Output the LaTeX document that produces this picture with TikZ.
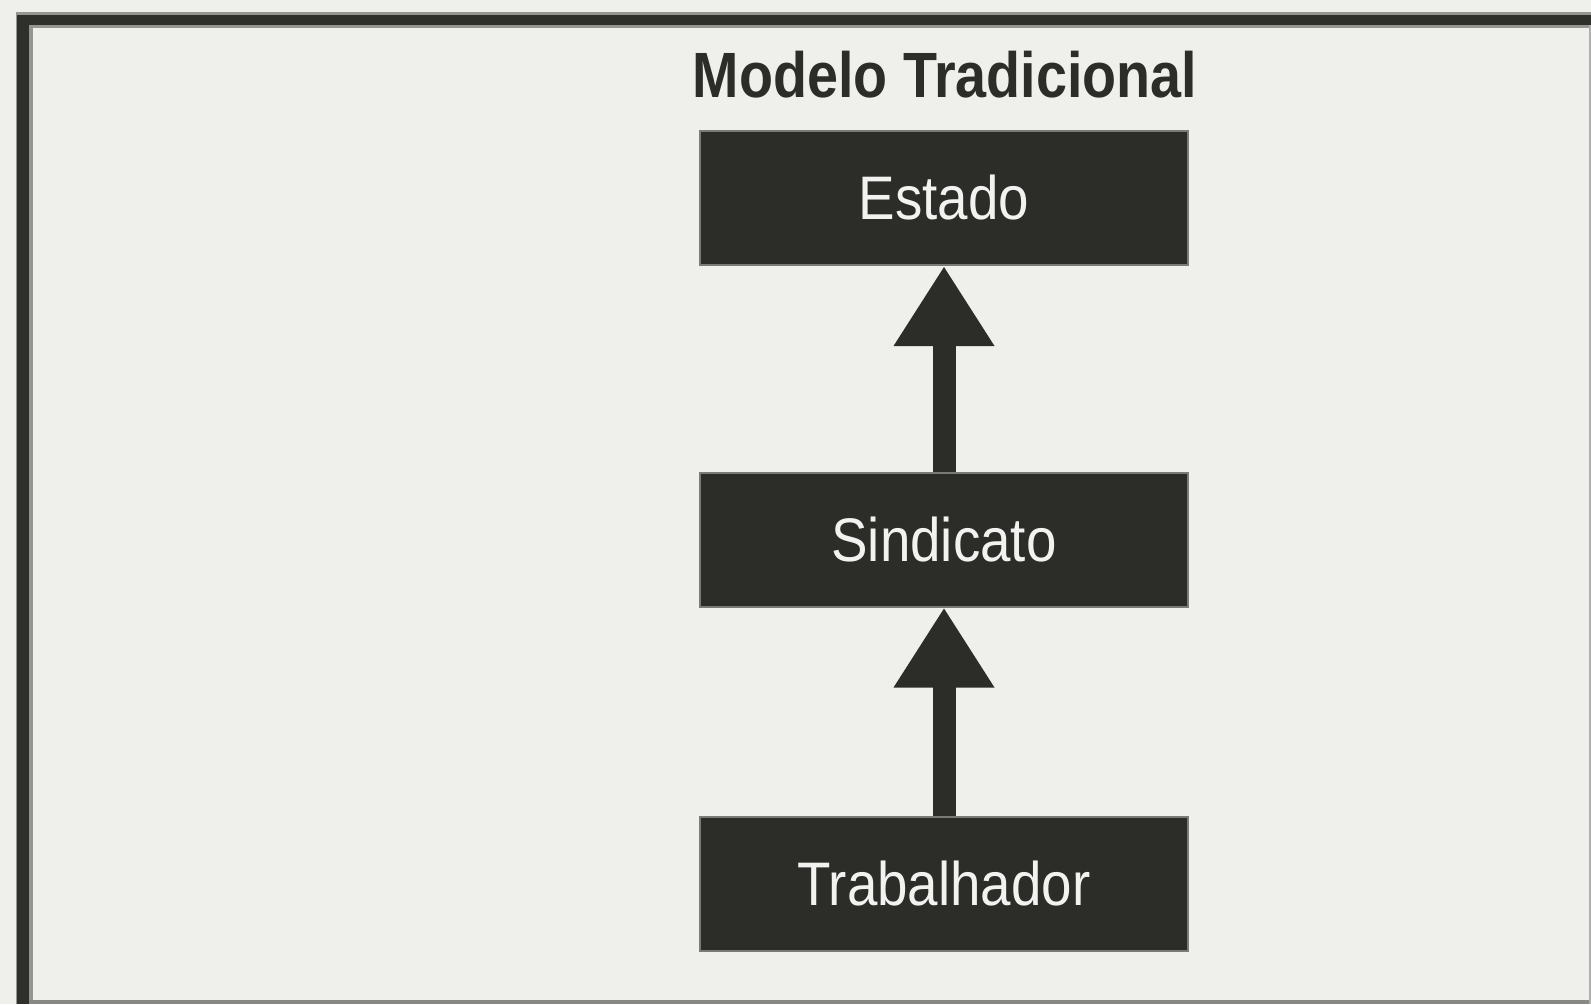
\documentclass[tikz,border=0pt]{standalone}
\usepackage{fontspec}
\setmainfont{Liberation Sans}[FakeStretch=0.89]
\newfontfamily\titlefont{Liberation Sans}[FakeStretch=0.87]
\usetikzlibrary{arrows.meta}
\definecolor{bgc}{HTML}{EFF0EB}
\definecolor{boxc}{HTML}{2C2D29}
\definecolor{edgec}{HTML}{7A7B76}
\definecolor{framec}{HTML}{2E302B}
\definecolor{txtc}{HTML}{F2F2F0}
\tikzset{
  levelbox/.style={draw=edgec, line width=2bp, fill=boxc, minimum width=488bp, minimum height=134bp,
    inner sep=0pt, text=txtc, font=\fontsize{61.5bp}{72bp}\selectfont},
  uparrow/.style={draw=boxc, line width=23bp, -{Triangle[width=95bp,length=80bp]}}
}
\begin{document}
\begin{tikzpicture}[x=1bp,y=-1bp]
\useasboundingbox (0,0) rectangle (1591,1004);
\fill[bgc] (0,0) rectangle (1591,1004);
% frame
\fill[edgec!80] (17,12) rectangle (1591,28);
\fill[edgec!80] (16,12) rectangle (33,1004);
\fill[framec] (17,15) rectangle (1591,25);
\fill[framec] (17,15) rectangle (29,1004);
\fill[edgec!90] (29,1000) rectangle (1591,1004);
\fill[edgec!60] (1589,25) rectangle (1591,1004);
% title
\node[inner sep=0pt, text=boxc, font=\titlefont\bfseries\fontsize{64bp}{76bp}\selectfont] (title) at (945,75) {Modelo Tradicional};
% boxes
\node[levelbox] (est) at (944,198) {Estado};
\node[levelbox] (sind) at (944,539.5) {Sindicato};
\node[levelbox] (trab) at (944,883.5) {Trabalhador};
% arrows
\draw[uparrow] (sind.north) -- (est.south);
\draw[uparrow] (trab.north) -- (sind.south);
\end{tikzpicture}
\end{document}
